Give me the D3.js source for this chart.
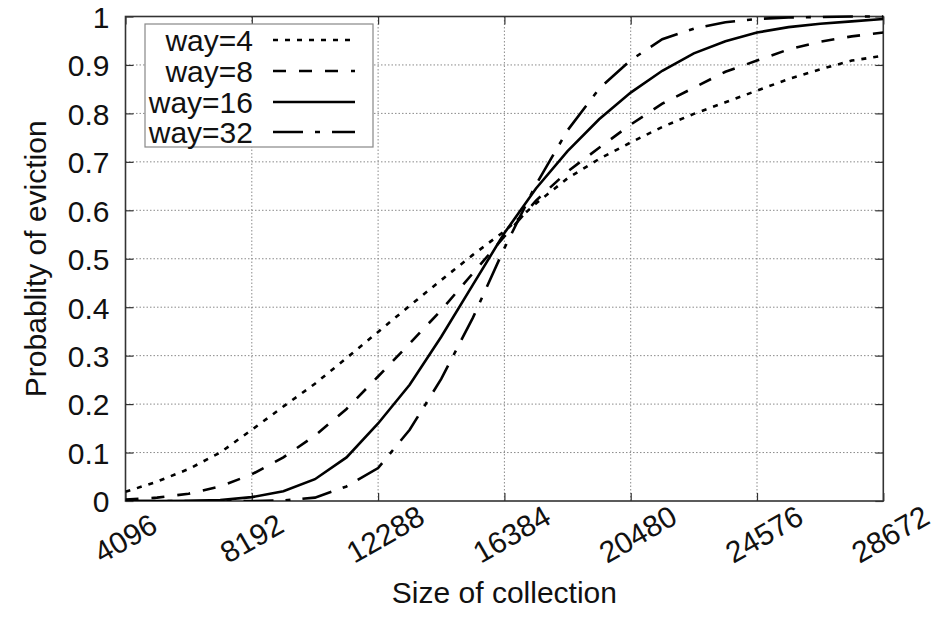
<!DOCTYPE html>
<html>
<head>
<meta charset="utf-8">
<script src="https://cdn.jsdelivr.net/npm/d3@7"></script>
<style>
  html, body { margin: 0; padding: 0; background: #fff; }
  svg { display: block; }
  text { font-family: "Liberation Sans", Arial, Helvetica, sans-serif; fill: #111; }
</style>
</head>
<body>
<svg id="chart" width="943" height="624"></svg>
<script>
// ---- data ----
const sizes = [4096, 5120, 6144, 7168, 8192, 9216, 10240, 11264, 12288, 13312, 14336, 15360,
  16384, 17408, 18432, 19456, 20480, 21504, 22528, 23552, 24576, 25600, 26624, 27648, 28672];
const way4  = [0.019, 0.040, 0.066, 0.100, 0.147, 0.195, 0.242, 0.295, 0.349, 0.403, 0.456, 0.508,
  0.557, 0.614, 0.666, 0.706, 0.740, 0.772, 0.799, 0.823, 0.847, 0.871, 0.891, 0.909, 0.919];
const way8  = [0.003, 0.007, 0.015, 0.030, 0.055, 0.090, 0.135, 0.190, 0.257, 0.325, 0.394, 0.470,
  0.546, 0.620, 0.680, 0.729, 0.777, 0.820, 0.853, 0.886, 0.909, 0.932, 0.948, 0.959, 0.967];
const way16 = [0.000, 0.000, 0.0005, 0.002, 0.008, 0.020, 0.045, 0.090, 0.160, 0.240, 0.339, 0.446,
  0.553, 0.645, 0.722, 0.788, 0.843, 0.888, 0.924, 0.949, 0.967, 0.978, 0.985, 0.990, 0.995];
const way32 = [0.000, 0.000, 0.000, 0.000, 0.000, 0.001, 0.007, 0.030, 0.068, 0.147, 0.252, 0.378,
  0.522, 0.653, 0.765, 0.851, 0.910, 0.953, 0.975, 0.988, 0.995, 0.998, 0.999, 1.000, 1.000];
const seriesNames = ["way=4", "way=8", "way=16", "way=32"];
const xTicks = [4096, 8192, 12288, 16384, 20480, 24576, 28672];
const yTicks = [0, 0.1, 0.2, 0.3, 0.4, 0.5, 0.6, 0.7, 0.8, 0.9, 1];
const xTitle = "Size of collection";
const yTitle = "Probablity of eviction";

// ---- layout ----
const L = 125.5, R = 883.3, T = 16.5, B = 501;
const dashes = ["5,7", "13,13", null, "30,12,5,12"];
const FS = 30;

const svg = d3.select("#chart");
const x = d3.scaleLinear().domain([4096, 28672]).range([L, R]);
const y = d3.scaleLinear().domain([0, 1]).range([B, T]);

// grid
const grid = svg.append("g");
grid.selectAll("line.gy").data(yTicks.slice(1, -1)).join("line")
  .attr("x1", L).attr("x2", R).attr("y1", d => y(d)).attr("y2", d => y(d))
  .attr("stroke", "#8a8a8a").attr("stroke-width", 1).attr("stroke-dasharray", "1.5,2");
grid.selectAll("line.gx").data(xTicks.slice(1, -1)).join("line")
  .attr("y1", T).attr("y2", B).attr("x1", d => x(d)).attr("x2", d => x(d))
  .attr("stroke", "#8a8a8a").attr("stroke-width", 1).attr("stroke-dasharray", "1.5,2");

// axes (ticks inward, mirrored)
const tickLen = 8;
const axL = svg.append("g").attr("transform", `translate(${L},0)`)
  .call(d3.axisLeft(y).tickValues(yTicks).tickFormat(d3.format("~g")).tickSize(-tickLen).tickPadding(16));
const axR = svg.append("g").attr("transform", `translate(${R},0)`)
  .call(d3.axisRight(y).tickValues(yTicks).tickFormat("").tickSize(-tickLen));
const axB = svg.append("g").attr("transform", `translate(0,${B})`)
  .call(d3.axisBottom(x).tickValues(xTicks).tickFormat("").tickSize(-tickLen));
const axT = svg.append("g").attr("transform", `translate(0,${T})`)
  .call(d3.axisTop(x).tickValues(xTicks).tickFormat("").tickSize(-tickLen));
[axL, axR, axB, axT].forEach(a => {
  a.select(".domain").remove();
  a.selectAll(".tick line").attr("stroke", "#333").attr("stroke-width", 1.2);
});
axL.selectAll(".tick text").attr("font-size", FS).attr("font-family", "Liberation Sans, Arial, sans-serif")
  .attr("fill", "#111").attr("dy", "0.36em");

// x tick labels, rotated (start-anchored, like gnuplot "rotate by 30")
svg.append("g").selectAll("text").data(xTicks).join("text")
  .attr("transform", d => `translate(${x(d) - 29},${B + 54}) rotate(-30)`)
  .attr("text-anchor", "start").attr("dominant-baseline", "central")
  .attr("font-size", FS).text(d => d);

// frame
svg.append("rect").attr("x", L).attr("y", T).attr("width", R - L).attr("height", B - T)
  .attr("fill", "none").attr("stroke", "#333").attr("stroke-width", 1.6);

// lines
const allSeries = [way4, way8, way16, way32];
const line = d3.line().x((d, i) => x(sizes[i])).y(d => y(d));
svg.append("defs").append("clipPath").attr("id", "clip")
  .append("rect").attr("x", L).attr("y", T - 2).attr("width", R - L).attr("height", B - T + 2);
svg.append("g").attr("clip-path", "url(#clip)").selectAll("path").data(allSeries).join("path")
  .attr("d", d => line(d)).attr("fill", "none").attr("stroke", "#000").attr("stroke-width", 2.6)
  .attr("stroke-dasharray", (d, i) => dashes[i]);

// legend
const lg = svg.append("g");
lg.append("rect").attr("x", 145).attr("y", 24).attr("width", 228).attr("height", 123)
  .attr("fill", "#fff").attr("stroke", "#888").attr("stroke-width", 1.2);
const rows = [40, 71, 102, 132];
seriesNames.forEach((nm, i) => {
  lg.append("text").attr("x", 253).attr("y", rows[i]).attr("dominant-baseline", "central")
    .attr("text-anchor", "end").attr("font-size", FS).text(nm);
  lg.append("line").attr("x1", 273).attr("x2", 355).attr("y1", rows[i]).attr("y2", rows[i])
    .attr("stroke", "#000").attr("stroke-width", 2.6).attr("stroke-dasharray", dashes[i]);
});

// titles
svg.append("text").attr("x", (L + R) / 2).attr("y", 603).attr("text-anchor", "middle")
  .attr("font-size", FS).text(xTitle);
svg.append("text").attr("transform", `translate(46,${(T + B) / 2}) rotate(-90)`)
  .attr("text-anchor", "middle").attr("font-size", FS).text(yTitle);
</script>
</body>
</html>
